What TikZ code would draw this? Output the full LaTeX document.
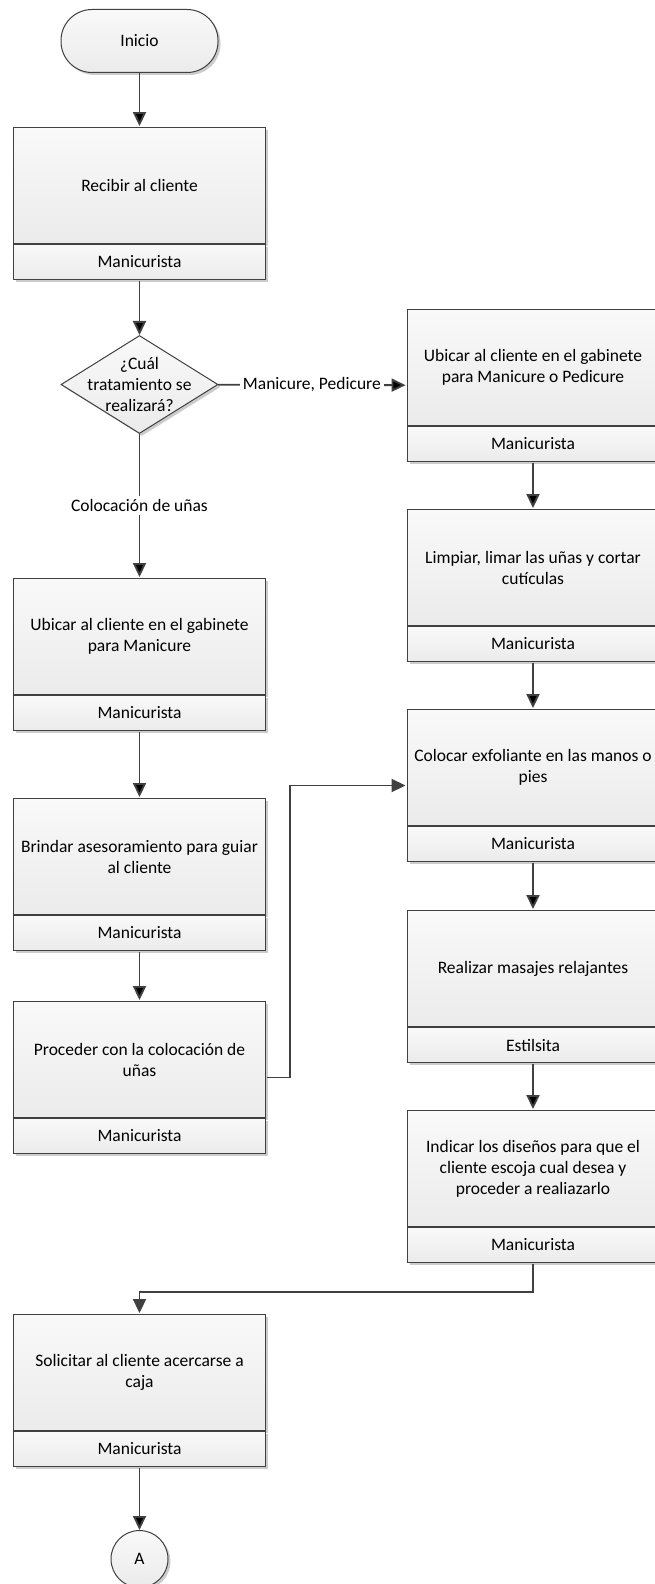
\documentclass[tikz,border=0pt]{standalone}
\usepackage{fontspec}
\setmainfont{Carlito}
\usepackage{tikz}
\usetikzlibrary{arrows.meta,positioning,shapes.geometric,fit,shadows}

\definecolor{linea}{HTML}{404040}
\definecolor{claro}{HTML}{F9F9F9}
\definecolor{oscuro}{HTML}{EBEBEB}

\begin{document}
\begin{tikzpicture}[->,>={Triangle[length=14pt,width=13pt]},x=1pt,y=-1pt,
            line width=1.9pt,font=\fontsize{17.5}{21}\selectfont]
        \tikzstyle{sombra}=[drop shadow={shadow xshift=2.5pt,shadow yshift=-2.5pt,fill=black!20,opacity=1}]
        \tikzstyle{tarea}=[rectangle,draw=linea,line width=1pt,top color=claro,bottom color=oscuro,
            minimum width=252pt,minimum height=116pt,align=center,inner sep=0pt,sombra]
        \tikzstyle{rol}=[tarea,minimum height=35pt]
        \tikzstyle{terminal}=[rectangle,rounded corners=31pt,draw=linea,line width=1pt,
            top color=claro,bottom color=oscuro,minimum width=157pt,minimum height=63pt,sombra]
        \tikzstyle{decision}=[diamond,draw=linea,line width=1pt,top color=claro,bottom color=oscuro,
            minimum width=157pt,minimum height=98pt,inner sep=0pt,sombra]
        \tikzstyle{conector}=[circle,draw=linea,line width=1pt,top color=claro,bottom color=oscuro,
            minimum size=57pt,inner sep=0pt,sombra]
        \tikzstyle{bloque}=[inner sep=0pt]
        \tikzstyle{flecha}=[draw=linea]
        \tikzstyle{etiqueta}=[fill=white,inner sep=3pt]

        \useasboundingbox (0,0) rectangle (655,1584);

        % columna izquierda
        \node[terminal] (I) at (139.5,41) {Inicio};

        \node[tarea,anchor=north] (L1) at (139.5,127) {Recibir al cliente};
        \node[rol,below=0pt of L1] (L1m) {Manicurista};
        \node[bloque,fit=(L1)(L1m)] (L1f) {};

        \node[decision,label={[align=center]center:¿Cuál\\tratamiento se\\realizará?}] (D) at (139.5,384.5) {};

        \node[tarea,anchor=north] (L2) at (139.5,578) {Ubicar al cliente en el gabinete\\para Manicure};
        \node[rol,below=0pt of L2] (L2m) {Manicurista};
        \node[bloque,fit=(L2)(L2m)] (L2f) {};

        \node[tarea,anchor=north] (L3) at (139.5,798) {Brindar asesoramiento para guiar\\al cliente};
        \node[rol,below=0pt of L3] (L3m) {Manicurista};
        \node[bloque,fit=(L3)(L3m)] (L3f) {};

        \node[tarea,anchor=north] (L4) at (139.5,1001) {Proceder con la colocación de\\uñas};
        \node[rol,below=0pt of L4] (L4m) {Manicurista};
        \node[bloque,fit=(L4)(L4m)] (L4f) {};

        \node[tarea,anchor=north] (L5) at (139.5,1314) {Solicitar al cliente acercarse a\\caja};
        \node[rol,below=0pt of L5] (L5m) {Manicurista};
        \node[bloque,fit=(L5)(L5m)] (L5f) {};

        \node[conector] (C) at (139.5,1559) {A};

        % columna derecha
        \node[tarea,anchor=north] (R1) at (533,309) {Ubicar al cliente en el gabinete\\para Manicure o Pedicure};
        \node[rol,below=0pt of R1] (R1m) {Manicurista};
        \node[bloque,fit=(R1)(R1m)] (R1f) {};

        \node[tarea,anchor=north] (R2) at (533,509) {Limpiar, limar las uñas y cortar\\cutículas};
        \node[rol,below=0pt of R2] (R2m) {Manicurista};
        \node[bloque,fit=(R2)(R2m)] (R2f) {};

        \node[tarea,anchor=north] (R3) at (533,709) {Colocar exfoliante en las manos o\\pies};
        \node[rol,below=0pt of R3] (R3m) {Manicurista};
        \node[bloque,fit=(R3)(R3m)] (R3f) {};

        \node[tarea,anchor=north] (R4) at (533,910) {Realizar masajes relajantes};
        \node[rol,below=0pt of R4] (R4m) {Estilsita};
        \node[bloque,fit=(R4)(R4m)] (R4f) {};

        \node[tarea,anchor=north] (R5) at (533,1110) {Indicar los diseños para que el\\cliente escoja cual desea y\\proceder a realiazarlo};
        \node[rol,below=0pt of R5] (R5m) {Manicurista};
        \node[bloque,fit=(R5)(R5m)] (R5f) {};

        % flujo
        \path[flecha] (I) edge (L1f);
        \path[flecha] (L1f) edge (D);
        \path[flecha] (D) edge node[etiqueta] {Manicure, Pedicure} (R1f);
        \path[flecha] (D) edge node[etiqueta] {Colocación de uñas} (L2f);
        \path[flecha] (L2f) edge (L3f);
        \path[flecha] (L3f) edge (L4f);
        \draw[flecha] (L4f.east) -- ++(23,0) |- (R3f.west);

        \path[flecha] (R1f) edge (R2f);
        \path[flecha] (R2f) edge (R3f);
        \path[flecha] (R3f) edge (R4f);
        \path[flecha] (R4f) edge (R5f);
        \draw[flecha] (R5f.south) -- ++(0,28) -| (L5f.north);
        \path[flecha] (L5f) edge (C);
\end{tikzpicture}
\end{document}
